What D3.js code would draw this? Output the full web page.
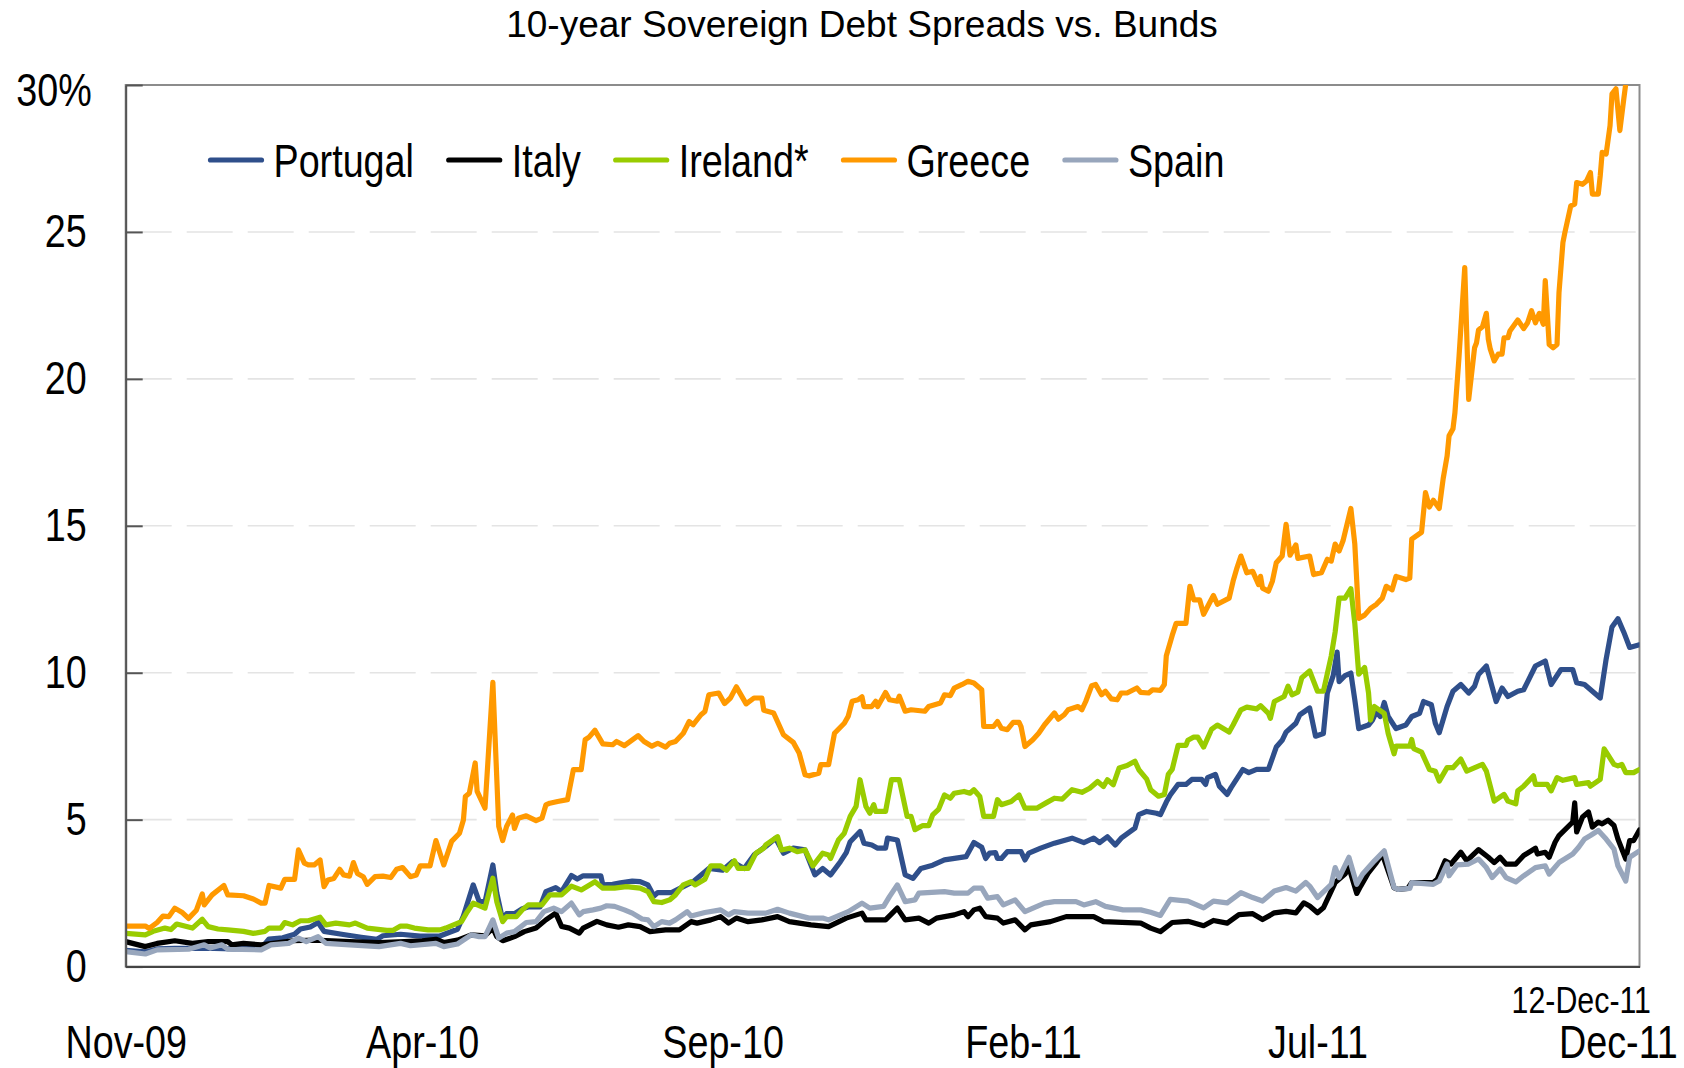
<!DOCTYPE html>
<html><head><meta charset="utf-8">
<script src="https://cdn.jsdelivr.net/npm/d3@7"></script>
<style>
html,body{margin:0;padding:0;background:#fff;}
svg{display:block;}
</style></head><body>
<svg id="chart" width="1684" height="1068"></svg>
<script>
const chartTitle = "10-year Sovereign Debt Spreads vs. Bunds";
const startDate = "2009-11-01";
const endDate = "2011-12-12";
const endLabel = "12-Dec-11";
const xTickDates = ["2009-11-01","2010-04-01","2010-09-01","2011-02-01","2011-07-01","2011-12-01"];
const xTickLabels = ["Nov-09","Apr-10","Sep-10","Feb-11","Jul-11","Dec-11"];
const yTicks = [0,5,10,15,20,25,30];
const yTickLabels = ["0","5","10","15","20","25","30%"];
const seriesNames = ["Portugal","Italy","Ireland*","Greece","Spain"];
const seriesColors = ["#2F4F8B","#000000","#99CC00","#FF9900","#98A6BC"];

// [days since 1-Nov-2009, spread in %]
const portugal = [[0,0.55],[10,0.5],[16,0.6],[25,0.62],[35,0.62],[45,0.62],[55,0.6],[69,0.62],[73,0.94],[80,0.98],[86,1.1],[89,1.28],[94,1.35],[98,1.5],[101,1.2],[110,1.1],[120,1.0],[128,0.93],[131,1.05],[140,1.1],[150,1.04],[160,1.04],[169,1.27],[172,1.72],[177,2.78],[180,2.22],[183,2.2],[187,3.46],[189,2.5],[192,1.58],[194,1.8],[198,1.8],[202,1.97],[205,2.03],[211,2.03],[214,2.55],[219,2.69],[222,2.55],[227,3.1],[230,2.98],[233,3.09],[242,3.09],[243,2.78],[248,2.8],[252,2.85],[258,2.91],[262,2.89],[266,2.78],[269,2.4],[271,2.52],[278,2.52],[284,2.72],[289,2.89],[297,3.34],[304,3.28],[309,3.57],[315,3.34],[320,3.8],[326,4.09],[331,4.37],[335,3.86],[340,4.03],[346,3.97],[351,3.12],[355,3.34],[359,3.12],[364,3.57],[367,3.88],[369,4.25],[374,4.6],[376,4.2],[380,4.14],[383,4.03],[387,4.03],[388,4.37],[393,4.31],[397,3.12],[401,3.0],[405,3.34],[411,3.45],[417,3.63],[428,3.74],[432,4.22],[436,4.06],[438,3.68],[440,3.86],[443,3.88],[444,3.68],[446,3.68],[449,3.91],[456,3.91],[458,3.63],[460,3.86],[466,4.03],[473,4.2],[482,4.37],[488,4.22],[493,4.37],[496,4.22],[500,4.42],[504,4.14],[507,4.37],[514,4.71],[516,5.17],[520,5.28],[525,5.22],[527,5.17],[530,5.6],[532,5.84],[536,6.2],[540,6.2],[543,6.37],[548,6.37],[550,6.2],[551,6.43],[555,6.54],[557,6.14],[561,5.86],[563,6.09],[569,6.71],[572,6.6],[576,6.71],[582,6.71],[586,7.47],[589,7.7],[591,7.98],[596,8.28],[598,8.57],[603,8.8],[606,7.84],[610,7.93],[612,9.31],[615,9.9],[617,10.7],[618,9.7],[621,9.9],[624,9.99],[626,9.08],[628,8.1],[633,8.22],[635,8.39],[637,8.68],[639,8.51],[641,8.99],[643,8.51],[647,8.1],[652,8.22],[655,8.51],[659,8.62],[661,9.02],[665,8.91],[667,8.28],[669,7.96],[673,8.85],[676,9.37],[680,9.6],[684,9.31],[687,9.54],[689,9.94],[693,10.23],[698,9.02],[701,9.48],[704,9.19],[709,9.37],[712,9.42],[718,10.23],[723,10.4],[726,9.6],[731,10.11],[737,10.11],[739,9.66],[743,9.6],[747,9.37],[751,9.14],[754,10.46],[757,11.56],[760,11.84],[763,11.38],[766,10.86],[771,10.95]];

const italy = [[0,0.85],[10,0.68],[16,0.79],[25,0.88],[34,0.79],[42,0.85],[52,0.85],[54,0.74],[60,0.79],[69,0.74],[78,0.82],[85,0.88],[96,0.9],[114,0.85],[129,0.82],[142,0.85],[151,0.88],[158,0.93],[162,0.82],[169,0.9],[176,1.08],[183,1.05],[187,1.31],[189,1.02],[192,0.88],[198,1.02],[203,1.19],[209,1.31],[214,1.59],[219,1.82],[222,1.37],[226,1.31],[231,1.14],[233,1.31],[240,1.54],[245,1.42],[251,1.34],[256,1.42],[262,1.36],[267,1.19],[275,1.25],[282,1.25],[288,1.53],[291,1.48],[298,1.59],[303,1.7],[307,1.48],[311,1.65],[317,1.53],[324,1.59],[332,1.7],[338,1.53],[349,1.42],[358,1.36],[367,1.65],[375,1.82],[377,1.59],[387,1.59],[393,1.99],[397,1.59],[404,1.65],[409,1.48],[413,1.65],[422,1.76],[427,1.87],[429,1.7],[432,1.93],[435,1.99],[438,1.7],[444,1.65],[447,1.48],[453,1.59],[458,1.25],[461,1.42],[471,1.53],[479,1.7],[493,1.7],[498,1.53],[517,1.48],[522,1.31],[527,1.19],[533,1.5],[541,1.54],[549,1.39],[554,1.57],[561,1.48],[567,1.77],[574,1.8],[579,1.6],[585,1.83],[591,1.88],[596,1.83],[600,2.17],[603,2.06],[607,1.83],[610,2.0],[616,2.86],[621,3.15],[623,3.37],[627,2.49],[629,2.74],[633,3.2],[637,3.54],[640,3.83],[646,2.68],[648,2.63],[653,2.66],[655,2.86],[666,2.86],[668,2.97],[672,3.6],[675,3.49],[680,3.89],[683,3.6],[689,3.98],[694,3.72],[697,3.54],[700,3.72],[703,3.49],[708,3.49],[712,3.78],[718,4.03],[719,3.83],[723,3.89],[725,3.72],[728,4.23],[730,4.46],[737,4.92],[738,5.57],[739,4.58],[742,5.09],[745,5.26],[747,4.75],[750,4.92],[752,4.86],[755,4.98],[758,4.8],[760,4.34],[764,3.66],[766,4.29],[768,4.29],[771,4.65]];

const ireland = [[0,1.13],[10,1.08],[14,1.2],[20,1.31],[23,1.26],[26,1.45],[34,1.31],[39,1.61],[42,1.36],[47,1.28],[52,1.25],[60,1.2],[65,1.13],[71,1.2],[73,1.31],[79,1.31],[81,1.5],[85,1.42],[89,1.56],[93,1.56],[99,1.68],[102,1.42],[107,1.48],[114,1.42],[117,1.48],[123,1.31],[133,1.23],[136,1.23],[140,1.38],[143,1.38],[147,1.31],[154,1.25],[160,1.25],[163,1.31],[167,1.42],[171,1.53],[174,1.87],[177,2.16],[183,1.99],[187,3.01],[189,2.21],[192,1.53],[194,1.7],[199,1.7],[202,1.93],[205,2.1],[212,2.1],[216,2.44],[222,2.44],[227,2.74],[232,2.61],[239,2.89],[243,2.67],[249,2.67],[255,2.72],[262,2.67],[266,2.55],[269,2.21],[273,2.18],[277,2.27],[280,2.44],[284,2.78],[288,2.89],[290,2.78],[295,2.97],[298,3.43],[303,3.43],[306,3.28],[310,3.6],[312,3.34],[317,3.34],[321,3.86],[325,4.03],[326,4.14],[332,4.42],[334,3.97],[338,4.03],[342,3.91],[346,3.97],[350,3.43],[355,3.86],[358,3.8],[359,3.68],[363,4.31],[366,4.54],[369,5.11],[372,5.45],[374,6.36],[377,5.45],[379,5.22],[381,5.51],[382,5.28],[387,5.28],[390,6.36],[394,6.36],[398,5.11],[400,5.11],[402,4.66],[406,4.8],[409,4.8],[411,5.16],[414,5.35],[417,5.84],[420,5.73],[422,5.9],[427,5.96],[430,5.9],[432,6.02],[435,5.79],[437,5.11],[442,5.11],[444,5.68],[446,5.51],[451,5.62],[455,5.84],[458,5.39],[464,5.39],[469,5.58],[473,5.73],[477,5.7],[482,6.02],[487,5.93],[491,6.07],[495,6.3],[498,6.13],[500,6.36],[503,6.19],[506,6.76],[510,6.84],[514,6.99],[516,6.7],[520,6.38],[522,6.02],[526,5.8],[529,5.86],[531,6.54],[533,6.71],[536,7.53],[540,7.53],[541,7.7],[544,7.81],[546,7.81],[549,7.47],[553,8.07],[556,8.22],[562,7.98],[564,8.22],[568,8.74],[571,8.83],[576,8.77],[578,8.88],[582,8.62],[583,8.45],[585,9.02],[590,9.19],[592,9.54],[594,9.25],[597,9.34],[599,9.83],[603,10.06],[607,9.37],[610,9.37],[614,10.57],[616,11.39],[618,12.54],[621,12.54],[624,12.86],[626,11.68],[628,9.95],[631,10.18],[633,9.31],[634,8.39],[636,8.85],[641,8.62],[643,7.93],[646,7.24],[647,7.5],[654,7.5],[655,7.73],[656,7.42],[660,7.3],[664,6.71],[667,6.65],[669,6.31],[673,6.77],[676,6.77],[680,7.06],[683,6.65],[691,6.88],[693,6.65],[697,5.63],[702,5.86],[704,5.63],[708,5.54],[709,5.98],[712,6.14],[717,6.49],[718,6.2],[724,6.2],[726,5.98],[729,6.43],[732,6.34],[738,6.43],[739,6.2],[745,6.26],[746,6.14],[751,6.37],[753,7.41],[758,6.88],[760,6.83],[762,6.88],[764,6.6],[768,6.6],[771,6.71]];

const greece = [[0,1.38],[10,1.38],[12,1.3],[16,1.5],[19,1.72],[22,1.7],[25,1.99],[29,1.83],[32,1.64],[36,1.92],[39,2.47],[40,2.1],[44,2.44],[50,2.76],[52,2.44],[60,2.41],[65,2.3],[69,2.16],[71,2.16],[73,2.76],[79,2.67],[81,2.97],[86,2.97],[88,3.97],[91,3.52],[93,3.46],[96,3.46],[99,3.63],[101,2.72],[103,2.95],[106,3.0],[109,3.31],[111,3.12],[114,3.08],[116,3.54],[118,3.17],[121,3.06],[123,2.8],[127,3.06],[131,3.08],[135,3.03],[138,3.31],[141,3.37],[145,3.06],[148,3.12],[150,3.43],[155,3.43],[158,4.29],[162,3.46],[166,4.26],[170,4.54],[172,4.99],[173,5.79],[175,5.9],[178,6.93],[179,5.96],[183,5.39],[187,9.67],[190,4.77],[192,4.29],[194,4.77],[197,5.16],[198,4.7],[200,5.05],[204,5.13],[209,4.97],[212,5.05],[214,5.5],[216,5.56],[220,5.62],[225,5.68],[228,6.7],[232,6.7],[234,7.72],[236,7.81],[239,8.04],[243,7.58],[248,7.55],[250,7.66],[254,7.52],[261,7.86],[264,7.66],[268,7.5],[271,7.6],[275,7.47],[277,7.6],[280,7.66],[284,7.94],[287,8.34],[289,8.23],[293,8.57],[295,8.68],[297,9.25],[302,9.31],[305,8.95],[308,9.14],[311,9.52],[316,8.94],[320,9.14],[324,9.14],[325,8.72],[330,8.63],[335,7.89],[340,7.63],[343,7.27],[346,6.53],[348,6.49],[353,6.58],[354,6.87],[358,6.87],[361,7.94],[366,8.28],[368,8.52],[370,9.03],[373,9.08],[375,9.18],[376,8.85],[380,8.85],[382,9.03],[383,8.85],[387,9.33],[389,9.08],[393,9.03],[394,9.2],[397,8.69],[400,8.74],[407,8.69],[409,8.85],[415,8.97],[417,9.25],[420,9.22],[422,9.48],[426,9.6],[429,9.71],[432,9.65],[436,9.42],[437,8.17],[442,8.17],[444,8.34],[446,8.11],[449,8.06],[452,8.31],[455,8.31],[456,8.17],[458,7.49],[462,7.72],[465,7.94],[468,8.23],[473,8.63],[475,8.42],[478,8.57],[480,8.74],[485,8.85],[487,8.74],[489,9.03],[492,9.56],[494,9.6],[497,9.25],[499,9.37],[502,9.11],[505,9.08],[507,9.31],[510,9.31],[515,9.48],[517,9.33],[521,9.31],[523,9.42],[527,9.4],[529,9.6],[530,10.58],[533,11.27],[535,11.68],[540,11.68],[542,12.94],[544,12.48],[547,12.48],[549,11.99],[554,12.63],[556,12.33],[562,12.54],[564,13.11],[566,13.57],[568,13.97],[571,13.4],[574,13.45],[577,13.0],[578,13.28],[579,12.88],[582,12.77],[584,13.11],[586,13.74],[589,13.97],[591,15.05],[593,14.0],[596,14.35],[597,13.89],[603,13.97],[605,13.34],[609,13.4],[612,13.86],[614,13.8],[616,14.38],[618,14.14],[620,14.49],[624,15.59],[626,14.38],[628,11.85],[631,11.96],[634,12.19],[637,12.33],[640,12.54],[642,12.94],[645,12.82],[647,13.28],[652,13.17],[654,13.22],[655,14.55],[660,14.78],[662,16.13],[664,15.64],[666,15.87],[669,15.59],[671,16.6],[673,17.37],[674,18.06],[676,18.3],[677,18.85],[679,20.67],[682,23.79],[684,19.3],[687,21.06],[688,21.23],[689,21.66],[691,21.77],[693,22.23],[694,21.35],[695,21.01],[697,20.61],[699,20.84],[701,20.84],[702,21.4],[704,21.4],[705,21.63],[709,22.0],[712,21.71],[714,21.91],[716,22.32],[718,21.91],[720,22.23],[722,21.86],[723,23.34],[725,21.17],[727,21.06],[729,21.17],[730,22.94],[732,24.64],[733,24.98],[736,25.89],[738,25.95],[739,26.68],[742,26.62],[744,26.73],[746,27.02],[747,26.29],[750,26.29],[751,26.91],[752,27.71],[754,27.65],[756,28.62],[757,29.7],[759,29.87],[761,28.45],[763,29.53],[764,30.04],[771,31.6]];

const spain = [[0,0.51],[10,0.43],[16,0.57],[32,0.59],[40,0.74],[43,0.63],[49,0.74],[52,0.59],[69,0.57],[74,0.74],[83,0.79],[88,0.97],[92,0.85],[98,1.02],[102,0.79],[114,0.74],[129,0.68],[140,0.79],[145,0.71],[158,0.79],[162,0.68],[169,0.77],[176,1.08],[180,1.02],[183,1.02],[187,1.59],[190,0.97],[194,1.14],[198,1.19],[204,1.5],[209,1.53],[213,1.87],[218,1.99],[222,1.87],[227,2.16],[231,1.76],[233,1.87],[238,1.93],[242,1.99],[245,2.07],[249,2.05],[254,1.93],[258,1.82],[263,1.62],[266,1.59],[269,1.36],[273,1.53],[277,1.48],[280,1.59],[286,1.87],[288,1.72],[295,1.84],[303,1.93],[307,1.76],[310,1.87],[317,1.82],[326,1.82],[332,1.95],[338,1.82],[348,1.65],[355,1.65],[358,1.59],[368,1.87],[375,2.16],[379,1.99],[386,2.05],[389,2.38],[393,2.78],[397,2.21],[402,2.27],[404,2.5],[417,2.55],[422,2.5],[429,2.5],[432,2.67],[436,2.67],[439,2.33],[444,2.38],[447,2.1],[453,2.27],[458,1.87],[468,2.16],[473,2.21],[484,2.21],[488,2.1],[494,2.21],[499,2.05],[508,1.93],[517,1.93],[522,1.85],[527,1.74],[532,2.29],[541,2.23],[549,2.0],[554,2.23],[561,2.17],[568,2.52],[574,2.35],[579,2.23],[585,2.57],[591,2.69],[596,2.57],[601,2.86],[603,2.74],[607,2.35],[614,2.8],[616,3.37],[618,3.03],[623,3.72],[627,2.8],[630,3.15],[636,3.6],[641,3.94],[646,2.69],[648,2.63],[654,2.66],[655,2.86],[666,2.8],[669,2.91],[673,3.49],[674,3.09],[678,3.46],[684,3.49],[689,3.66],[693,3.37],[696,3.03],[700,3.32],[703,3.03],[708,2.88],[712,3.09],[718,3.37],[723,3.43],[725,3.15],[730,3.54],[737,3.83],[740,4.06],[743,4.34],[746,4.46],[750,4.63],[754,4.34],[758,4.0],[760,3.43],[764,2.91],[766,3.72],[771,3.94]];

const seriesData = [portugal, italy, ireland, greece, spain];

// ---------- layout ----------
const W = 1684, H = 1068;
const plot = {left: 125.7, right: 1639.5, top: 85, bottom: 966.6};
const sansFont = "'Liberation Sans',Arial,sans-serif";
const NARROW = 0.82; // horizontal compression to mimic a narrow face

const parse = d3.timeParse("%Y-%m-%d");
const t0 = parse(startDate);
const dayToDate = d => d3.timeDay.offset(t0, d);

const x = d3.scaleTime().domain([t0, parse(endDate)]).range([plot.left, plot.right]);
const y = d3.scaleLinear().domain([0, 30]).range([plot.bottom, plot.top]);

const svg = d3.select("#chart");
svg.append("rect").attr("width", W).attr("height", H).attr("fill", "#fff");

function narrowify(sel) {
  sel.each(function () {
    const t = d3.select(this);
    const tx = +t.attr("x") || 0;
    t.attr("x", tx / NARROW).attr("transform", `scale(${NARROW},1)`);
  });
}

// title
svg.append("text").attr("x", 862).attr("y", 37)
  .attr("text-anchor", "middle").attr("font-family", sansFont)
  .attr("font-size", 37).attr("fill", "#000").text(chartTitle);

// gridlines
svg.append("g").selectAll("line").data(yTicks.filter(v => v > 0 && v < 30)).join("line")
  .attr("x1", plot.left).attr("x2", plot.right)
  .attr("y1", d => y(d)).attr("y2", d => y(d))
  .attr("stroke", "#e4e4e4").attr("stroke-width", 1.6)
  .attr("stroke-dasharray", "46,15");

// frame
svg.append("rect").attr("x", plot.left).attr("y", plot.top)
  .attr("width", plot.right - plot.left).attr("height", plot.bottom - plot.top)
  .attr("fill", "none").attr("stroke", "#8c8c8c").attr("stroke-width", 2);

// clip
svg.append("clipPath").attr("id", "clip").append("rect")
  .attr("x", plot.left).attr("y", plot.top)
  .attr("width", plot.right - plot.left).attr("height", plot.bottom - plot.top);

// series
const line = d3.line().x(d => x(dayToDate(d[0]))).y(d => y(d[1]));
svg.append("g").attr("clip-path", "url(#clip)").selectAll("path")
  .data(seriesData).join("path")
  .attr("d", d => line(d))
  .attr("fill", "none")
  .attr("stroke", (d, i) => seriesColors[i])
  .attr("stroke-width", 5.2)
  .attr("stroke-linejoin", "round")
  .attr("stroke-linecap", "round");

// y axis
const yAxis = d3.axisLeft(y).tickValues(yTicks)
  .tickFormat((d, i) => yTickLabels[i])
  .tickSizeInner(-17).tickSizeOuter(0).tickPadding(39);
const gy = svg.append("g").attr("transform", `translate(${plot.left},0)`).call(yAxis);
gy.select(".domain").attr("stroke", "#555").attr("stroke-width", 2);
gy.selectAll(".tick line").attr("stroke", "#555").attr("stroke-width", 2);
gy.selectAll("text").attr("font-family", sansFont).attr("font-size", 46).attr("fill", "#000");
gy.selectAll(".tick").filter(d => d === 30).select("text").attr("x", -34).attr("dy", "0.45em");
narrowify(gy.selectAll("text"));

// x axis
const xAxis = d3.axisBottom(x).tickValues(xTickDates.map(parse))
  .tickFormat((d, i) => xTickLabels[i]).tickSize(0).tickPadding(59);
const gx = svg.append("g").attr("transform", `translate(0,${plot.bottom})`).call(xAxis);
gx.select(".domain").attr("stroke", "#444").attr("stroke-width", 2);
gx.selectAll("text").attr("font-family", sansFont).attr("font-size", 46).attr("fill", "#000");
narrowify(gx.selectAll("text"));

// end date label
svg.append("g").attr("transform", "translate(1651,1013)")
  .append("text").attr("text-anchor", "end")
  .attr("font-family", sansFont).attr("font-size", 37).attr("fill", "#000")
  .attr("transform", `scale(${NARROW},1)`).text(endLabel);

// legend
const lg = svg.append("g");
let lx = 210.5;
const ly = 160;
seriesNames.forEach((name, i) => {
  lg.append("line").attr("x1", lx).attr("x2", lx + 51).attr("y1", ly).attr("y2", ly)
    .attr("stroke", seriesColors[i]).attr("stroke-width", 5.2).attr("stroke-linecap", "round");
  const t = lg.append("g").attr("transform", `translate(${lx + 63},${ly + 16.5})`)
    .append("text").attr("transform", `scale(${NARROW},1)`)
    .attr("font-family", sansFont).attr("font-size", 46).attr("fill", "#000").text(name);
  const w = t.node().getComputedTextLength() * NARROW;
  lx = lx + 63 + w + 34.8;
});
</script>
</body></html>
